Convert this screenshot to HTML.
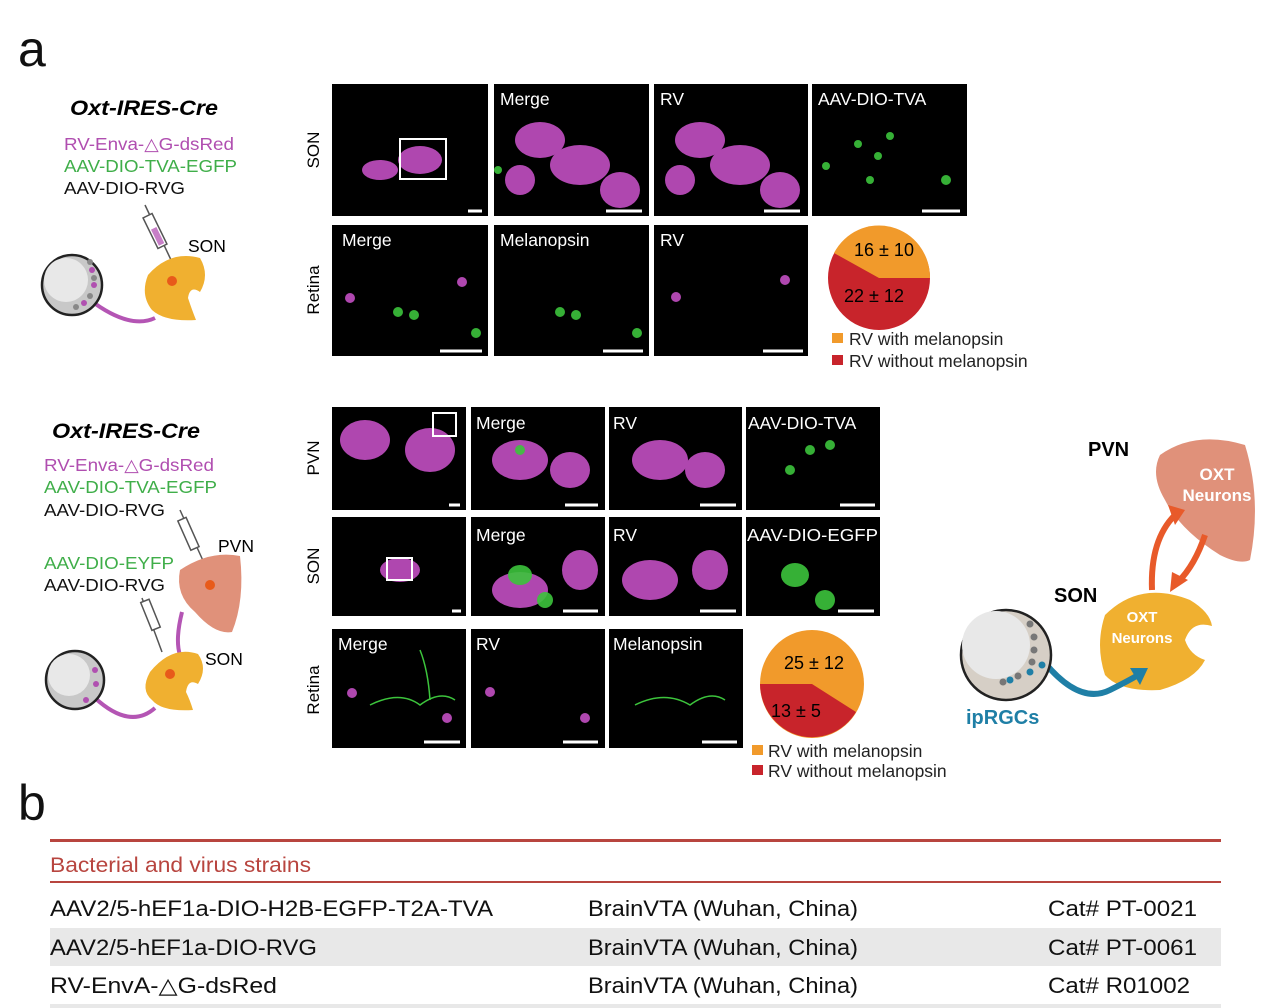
<!DOCTYPE html>
<html><head><meta charset="utf-8"><style>
html,body{margin:0;padding:0;background:#fff}
svg{display:block}
text{font-family:"Liberation Sans",Arial,sans-serif}
</style></head><body>
<svg width="1269" height="1008" viewBox="0 0 1269 1008" xmlns="http://www.w3.org/2000/svg">
<rect width="1269" height="1008" fill="#fff"/>
<text x="18" y="66" font-size="50" fill="#111">a</text>
<text x="18" y="820" font-size="50" fill="#111">b</text>

<!-- Left block 1 -->
<text x="70" y="115" font-size="21" font-weight="bold" font-style="italic" textLength="148" lengthAdjust="spacingAndGlyphs">Oxt-IRES-Cre</text>
<text x="64" y="150" font-size="17.5" fill="#b04eb0" textLength="170" lengthAdjust="spacingAndGlyphs">RV-Enva-△G-dsRed</text>
<text x="64" y="172" font-size="17.5" fill="#3fae49" textLength="173" lengthAdjust="spacingAndGlyphs">AAV-DIO-TVA-EGFP</text>
<text x="64" y="194" font-size="17.5" fill="#111" textLength="121" lengthAdjust="spacingAndGlyphs">AAV-DIO-RVG</text>
<line x1="145" y1="205" x2="172" y2="262" stroke="#555" stroke-width="1.5"/>
<rect x="150" y="214" width="10" height="34" transform="rotate(-26 155 231)" fill="#fff" stroke="#555" stroke-width="1.5"/>
<rect x="152" y="228" width="6" height="18" transform="rotate(-26 155 231)" fill="#c77ec7"/>
<text x="188" y="252" font-size="17.5">SON</text>
<path d="M148 275 Q170 250 200 258 Q210 275 200 292 Q190 285 188 298 Q192 310 196 320 Q165 322 152 310 Q140 295 148 275Z" fill="#f0b030"/>
<circle cx="172" cy="281" r="5" fill="#e85a1a"/>
<path d="M90 300 Q130 330 155 318" fill="none" stroke="#b455b4" stroke-width="4"/>
<circle cx="72" cy="285" r="30" fill="#c8c8c8" stroke="#222" stroke-width="2.5"/>
<circle cx="66" cy="280" r="22" fill="#e8e8e8"/>
<g fill="#b050b0"><circle cx="92" cy="270" r="3"/><circle cx="94" cy="285" r="3"/><circle cx="84" cy="303" r="3"/></g>
<g fill="#888"><circle cx="90" cy="262" r="3"/><circle cx="94" cy="278" r="3"/><circle cx="90" cy="296" r="3"/><circle cx="76" cy="307" r="3"/></g>

<!-- Left block 2 -->
<text x="52" y="438" font-size="21" font-weight="bold" font-style="italic" textLength="148" lengthAdjust="spacingAndGlyphs">Oxt-IRES-Cre</text>
<text x="44" y="471" font-size="17.5" fill="#b04eb0" textLength="170" lengthAdjust="spacingAndGlyphs">RV-Enva-△G-dsRed</text>
<text x="44" y="493" font-size="17.5" fill="#3fae49" textLength="173" lengthAdjust="spacingAndGlyphs">AAV-DIO-TVA-EGFP</text>
<text x="44" y="516" font-size="17.5" fill="#111" textLength="121" lengthAdjust="spacingAndGlyphs">AAV-DIO-RVG</text>
<text x="44" y="569" font-size="17.5" fill="#3fae49" textLength="130" lengthAdjust="spacingAndGlyphs">AAV-DIO-EYFP</text>
<text x="44" y="591" font-size="17.5" fill="#111" textLength="121" lengthAdjust="spacingAndGlyphs">AAV-DIO-RVG</text>
<line x1="180" y1="510" x2="205" y2="565" stroke="#555" stroke-width="1.5"/>
<rect x="184" y="518" width="9" height="32" transform="rotate(-24 188 534)" fill="#fff" stroke="#555" stroke-width="1.5"/>
<text x="218" y="552" font-size="17.5">PVN</text>
<path d="M180 570 Q210 550 240 556 Q245 600 232 632 Q215 635 195 612 Q175 595 180 570Z" fill="#e0917a"/>
<circle cx="210" cy="585" r="5" fill="#e85a1a"/>
<line x1="142" y1="598" x2="162" y2="652" stroke="#555" stroke-width="1.5"/>
<rect x="146" y="600" width="9" height="30" transform="rotate(-22 150 615)" fill="#fff" stroke="#555" stroke-width="1.5"/>
<text x="205" y="665" font-size="17.5">SON</text>
<path d="M182 612 Q175 640 180 655" fill="none" stroke="#b455b4" stroke-width="4"/>
<path d="M150 672 Q172 645 198 654 Q208 668 198 684 Q188 678 186 692 Q190 700 193 710 Q162 712 152 700 Q140 690 150 672Z" fill="#f0b030"/>
<circle cx="170" cy="674" r="5" fill="#e85a1a"/>
<path d="M95 698 Q130 730 155 708" fill="none" stroke="#b455b4" stroke-width="4"/>
<circle cx="75" cy="680" r="29" fill="#c8c8c8" stroke="#222" stroke-width="2.5"/>
<circle cx="69" cy="675" r="21" fill="#e8e8e8"/>
<g fill="#b050b0"><circle cx="95" cy="670" r="3"/><circle cx="96" cy="684" r="3"/><circle cx="86" cy="700" r="3"/></g>

<!-- Row labels -->
<text transform="translate(319 150) rotate(-90)" font-size="17" text-anchor="middle">SON</text>
<text transform="translate(319 290) rotate(-90)" font-size="17" text-anchor="middle">Retina</text>
<text transform="translate(319 458) rotate(-90)" font-size="17" text-anchor="middle">PVN</text>
<text transform="translate(319 566) rotate(-90)" font-size="17" text-anchor="middle">SON</text>
<text transform="translate(319 690) rotate(-90)" font-size="17" text-anchor="middle">Retina</text>

<!-- Microscopy panels -->
<g fill="#000">
<rect x="332" y="84" width="156" height="132"/><rect x="494" y="84" width="155" height="132"/><rect x="654" y="84" width="154" height="132"/><rect x="812" y="84" width="155" height="132"/>
<rect x="332" y="225" width="156" height="131"/><rect x="494" y="225" width="155" height="131"/><rect x="654" y="225" width="154" height="131"/>
<rect x="332" y="407" width="134" height="103"/><rect x="471" y="407" width="134" height="103"/><rect x="609" y="407" width="133" height="103"/><rect x="746" y="407" width="134" height="103"/>
<rect x="332" y="517" width="134" height="99"/><rect x="471" y="517" width="134" height="99"/><rect x="609" y="517" width="133" height="99"/><rect x="746" y="517" width="134" height="99"/>
<rect x="332" y="629" width="134" height="119"/><rect x="471" y="629" width="134" height="119"/><rect x="609" y="629" width="134" height="119"/>
</g>
<g fill="#c24fc2" opacity="0.9">
<ellipse cx="420" cy="160" rx="22" ry="14"/><ellipse cx="380" cy="170" rx="18" ry="10"/>
<ellipse cx="540" cy="140" rx="25" ry="18"/><ellipse cx="580" cy="165" rx="30" ry="20"/><ellipse cx="620" cy="190" rx="20" ry="18"/><ellipse cx="520" cy="180" rx="15" ry="15"/>
<ellipse cx="700" cy="140" rx="25" ry="18"/><ellipse cx="740" cy="165" rx="30" ry="20"/><ellipse cx="780" cy="190" rx="20" ry="18"/><ellipse cx="680" cy="180" rx="15" ry="15"/>
<circle cx="350" cy="298" r="5"/><circle cx="462" cy="282" r="5"/><circle cx="676" cy="297" r="5"/><circle cx="785" cy="280" r="5"/>
<ellipse cx="365" cy="440" rx="25" ry="20"/><ellipse cx="430" cy="450" rx="25" ry="22"/>
<ellipse cx="520" cy="460" rx="28" ry="20"/><ellipse cx="570" cy="470" rx="20" ry="18"/><ellipse cx="660" cy="460" rx="28" ry="20"/><ellipse cx="705" cy="470" rx="20" ry="18"/>
<ellipse cx="520" cy="590" rx="28" ry="18"/><ellipse cx="580" cy="570" rx="18" ry="20"/><ellipse cx="650" cy="580" rx="28" ry="20"/><ellipse cx="710" cy="570" rx="18" ry="20"/>
<ellipse cx="400" cy="570" rx="20" ry="12"/>
<circle cx="352" cy="693" r="5"/><circle cx="447" cy="718" r="5"/><circle cx="490" cy="692" r="5"/><circle cx="585" cy="718" r="5"/>
</g>
<g fill="#3cc43c" opacity="0.9">
<circle cx="498" cy="170" r="4"/><circle cx="826" cy="166" r="4"/><circle cx="858" cy="144" r="4"/><circle cx="878" cy="156" r="4"/><circle cx="890" cy="136" r="4"/><circle cx="870" cy="180" r="4"/><circle cx="946" cy="180" r="5"/>
<circle cx="398" cy="312" r="5"/><circle cx="414" cy="315" r="5"/><circle cx="476" cy="333" r="5"/><circle cx="560" cy="312" r="5"/><circle cx="576" cy="315" r="5"/><circle cx="637" cy="333" r="5"/>
<circle cx="520" cy="450" r="5"/><circle cx="810" cy="450" r="5"/><circle cx="830" cy="445" r="5"/><circle cx="790" cy="470" r="5"/>
<ellipse cx="520" cy="575" rx="12" ry="10"/><ellipse cx="545" cy="600" rx="8" ry="8"/><ellipse cx="795" cy="575" rx="14" ry="12"/><ellipse cx="825" cy="600" rx="10" ry="10"/>
</g>
<g fill="none" stroke="#3cc43c" stroke-width="1.5"><path d="M370 705 Q400 690 420 705 Q440 690 455 700"/><path d="M635 705 Q665 690 690 705 Q710 690 725 700"/><path d="M420 650 Q428 670 430 700"/></g>
<rect x="400" y="139" width="46" height="40" fill="none" stroke="#fff" stroke-width="2"/>
<rect x="433" y="413" width="23" height="23" fill="none" stroke="#fff" stroke-width="2"/>
<rect x="387" y="558" width="25" height="22" fill="none" stroke="#fff" stroke-width="2"/>
<g stroke="#fff" stroke-width="3">
<line x1="468" y1="211" x2="482" y2="211"/><line x1="606" y1="211" x2="642" y2="211"/><line x1="764" y1="211" x2="800" y2="211"/><line x1="922" y1="211" x2="960" y2="211"/>
<line x1="440" y1="351" x2="482" y2="351"/><line x1="603" y1="351" x2="643" y2="351"/><line x1="763" y1="351" x2="803" y2="351"/>
<line x1="449" y1="505" x2="460" y2="505"/><line x1="565" y1="505" x2="598" y2="505"/><line x1="700" y1="505" x2="736" y2="505"/><line x1="840" y1="505" x2="875" y2="505"/>
<line x1="452" y1="611" x2="461" y2="611"/><line x1="563" y1="611" x2="598" y2="611"/><line x1="700" y1="611" x2="736" y2="611"/><line x1="838" y1="611" x2="874" y2="611"/>
<line x1="424" y1="742" x2="460" y2="742"/><line x1="563" y1="742" x2="598" y2="742"/><line x1="702" y1="742" x2="737" y2="742"/>
</g>
<g fill="#fff" font-size="17.5">
<text x="500" y="105">Merge</text><text x="660" y="105">RV</text><text x="818" y="105">AAV-DIO-TVA</text>
<text x="342" y="246">Merge</text><text x="500" y="246">Melanopsin</text><text x="660" y="246">RV</text>
<text x="476" y="429">Merge</text><text x="613" y="429">RV</text><text x="748" y="429">AAV-DIO-TVA</text>
<text x="476" y="541">Merge</text><text x="613" y="541">RV</text><text x="747" y="541" textLength="131" lengthAdjust="spacingAndGlyphs">AAV-DIO-EGFP</text>
<text x="338" y="650">Merge</text><text x="476" y="650">RV</text><text x="613" y="650">Melanopsin</text>
</g>
<!-- Pies -->
<ellipse cx="879" cy="278" rx="51" ry="52" fill="#c8242b"/>
<path d="M879 278 L930 278 A51 52 0 0 0 834 253 Z" fill="#f19a2b"/>
<text x="884" y="256" font-size="18" text-anchor="middle">16 ± 10</text>
<text x="874" y="302" font-size="18" text-anchor="middle">22 ± 12</text>
<rect x="832" y="333" width="11" height="10" fill="#f19a2b"/><text x="849" y="345" font-size="17.5" fill="#222">RV with melanopsin</text>
<rect x="832" y="355" width="11" height="10" fill="#c8242b"/><text x="849" y="367" font-size="17.5" fill="#222">RV without melanopsin</text>

<ellipse cx="812" cy="684" rx="52" ry="54" fill="#f19a2b"/>
<path d="M812 684 L856 712 A52 54 0 0 1 760 684 Z" fill="#c8242b"/>
<text x="814" y="669" font-size="18" text-anchor="middle">25 ± 12</text>
<text x="796" y="717" font-size="18" text-anchor="middle">13 ± 5</text>
<rect x="752" y="745" width="11" height="10" fill="#f19a2b"/><text x="768" y="757" font-size="17.5" fill="#222">RV with melanopsin</text>
<rect x="752" y="765" width="11" height="10" fill="#c8242b"/><text x="768" y="777" font-size="17.5" fill="#222">RV without melanopsin</text>

<!-- Right diagram -->
<text x="1088" y="456" font-size="20" font-weight="bold">PVN</text>
<path d="M1160 455 Q1195 430 1245 445 Q1262 500 1250 560 Q1240 565 1220 555 Q1180 530 1165 500 Q1150 475 1160 455Z" fill="#e0917a"/>
<text x="1217" y="480" font-size="17" font-weight="bold" fill="#fff" text-anchor="middle">OXT</text>
<text x="1217" y="501" font-size="17" font-weight="bold" fill="#fff" text-anchor="middle">Neurons</text>
<path d="M1152 590 Q1150 540 1175 515" fill="none" stroke="#e85a2a" stroke-width="6"/>
<path d="M1168 505 L1185 510 L1175 525 Z" fill="#e85a2a"/>
<path d="M1205 535 Q1195 565 1178 582" fill="none" stroke="#e85a2a" stroke-width="6"/>
<path d="M1170 592 L1172 572 L1188 580 Z" fill="#e85a2a"/>
<text x="1054" y="602" font-size="20" font-weight="bold">SON</text>
<path d="M1105 615 Q1140 580 1190 600 Q1210 612 1212 626 Q1192 620 1185 640 Q1190 655 1205 660 Q1195 680 1160 690 Q1120 692 1105 675 Q1095 645 1105 615Z" fill="#f0b030"/>
<text x="1142" y="622" font-size="15" font-weight="bold" fill="#fff" text-anchor="middle">OXT</text>
<text x="1142" y="643" font-size="15" font-weight="bold" fill="#fff" text-anchor="middle">Neurons</text>
<path d="M1045 663 Q1080 705 1110 690 Q1130 680 1138 675" fill="none" stroke="#1f7fa6" stroke-width="6"/>
<path d="M1130 668 L1148 668 L1140 685 Z" fill="#1f7fa6"/>
<circle cx="1006" cy="655" r="45" fill="#d6cfc6" stroke="#222" stroke-width="2.5"/>
<circle cx="996" cy="645" r="34" fill="#e8e8e8"/>
<g fill="#777"><circle cx="1030" cy="624" r="3.5"/><circle cx="1034" cy="637" r="3.5"/><circle cx="1034" cy="650" r="3.5"/><circle cx="1032" cy="662" r="3.5"/><circle cx="1018" cy="676" r="3.5"/><circle cx="1003" cy="682" r="3.5"/></g>
<g fill="#1f7fa6"><circle cx="1030" cy="672" r="3.5"/><circle cx="1010" cy="680" r="3.5"/><circle cx="1042" cy="665" r="3.5"/></g>
<text x="966" y="724" font-size="20" font-weight="bold" fill="#1f7fa6">ipRGCs</text>

<!-- Table -->
<rect x="50" y="839" width="1171" height="3" fill="#b8453f"/>
<text x="50" y="872" font-size="21" fill="#b8453f" textLength="261" lengthAdjust="spacingAndGlyphs">Bacterial and virus strains</text>
<rect x="50" y="881" width="1171" height="2" fill="#b8453f"/>
<rect x="50" y="928" width="1171" height="38" fill="#e8e8e8"/>
<rect x="50" y="1004" width="1171" height="4" fill="#e8e8e8"/>
<g font-size="22" fill="#111" lengthAdjust="spacingAndGlyphs">
<text x="50" y="916" textLength="443" lengthAdjust="spacingAndGlyphs">AAV2/5-hEF1a-DIO-H2B-EGFP-T2A-TVA</text><text x="588" y="916" textLength="270" lengthAdjust="spacingAndGlyphs">BrainVTA (Wuhan, China)</text><text x="1048" y="916" textLength="149" lengthAdjust="spacingAndGlyphs">Cat# PT-0021</text>
<text x="50" y="955" textLength="267" lengthAdjust="spacingAndGlyphs">AAV2/5-hEF1a-DIO-RVG</text><text x="588" y="955" textLength="270" lengthAdjust="spacingAndGlyphs">BrainVTA (Wuhan, China)</text><text x="1048" y="955" textLength="149" lengthAdjust="spacingAndGlyphs">Cat# PT-0061</text>
<text x="50" y="993" textLength="227" lengthAdjust="spacingAndGlyphs">RV-EnvA-△G-dsRed</text><text x="588" y="993" textLength="270" lengthAdjust="spacingAndGlyphs">BrainVTA (Wuhan, China)</text><text x="1048" y="993" textLength="142" lengthAdjust="spacingAndGlyphs">Cat# R01002</text>
</g>
</svg>
</body></html>
